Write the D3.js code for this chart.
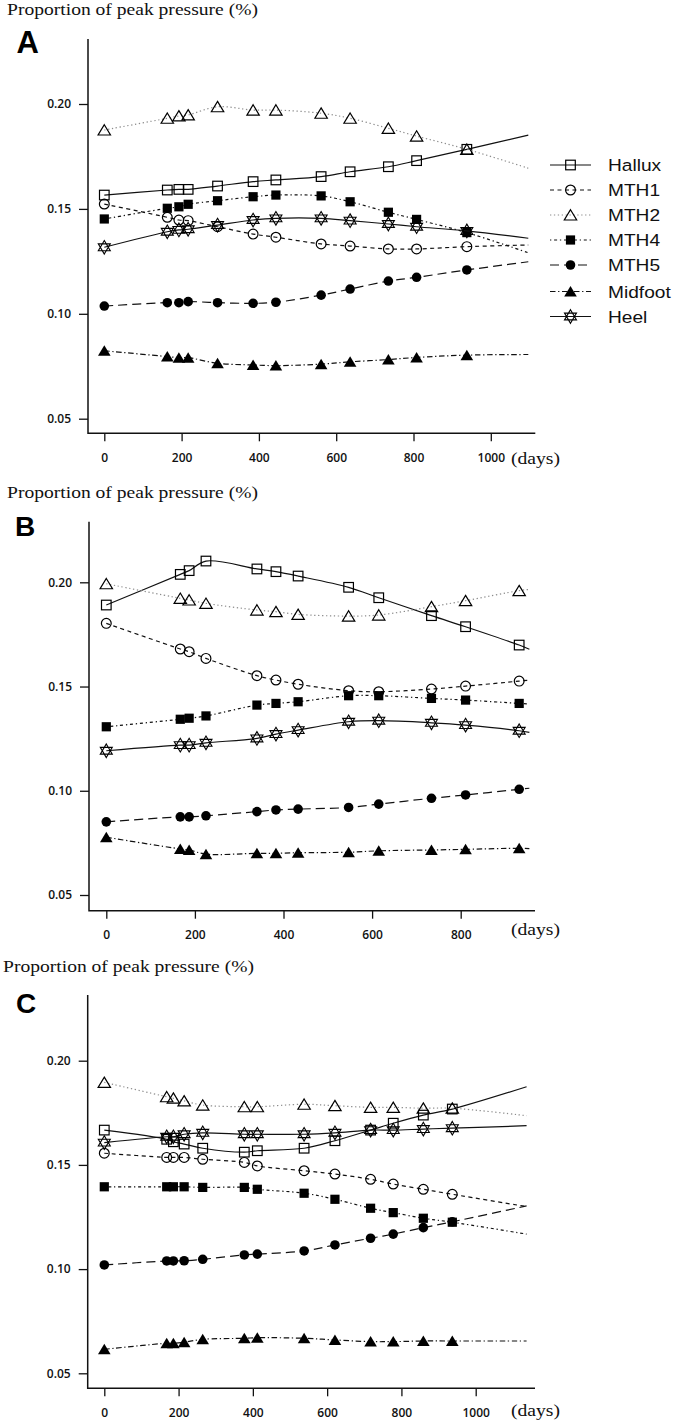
<!DOCTYPE html>
<html><head><meta charset="utf-8">
<script src="https://cdn.jsdelivr.net/npm/d3@7"></script>
<style>body{margin:0;background:#fff} svg{display:block}</style>
</head><body>
<svg id="chart" width="680" height="1422"></svg>
<script>
// ---------------- DATA ----------------
const seriesNames = ["Hallux","MTH1","MTH2","MTH4","MTH5","Midfoot","Heel"];
const yTicks = [0.05, 0.10, 0.15, 0.20];
const xTicksA = [0,200,400,600,800,1000];
const xTicksB = [0,200,400,600,800];
const xTicksC = [0,200,400,600,800,1000];
const yTitle = "Proportion of peak pressure (%)";
const xUnit = "(days)";

// Panel A
const daysA    = [0,163,193,217,293,385,444,561,636,735,808,938];
const lineEndDayA = 1097;
const halluxA  = [0.1566,0.1590,0.1593,0.1593,0.1609,0.1630,0.1638,0.1654,0.1677,0.1701,0.1730,0.1784];
const mth1A    = [0.1523,0.1460,0.1447,0.1444,0.1415,0.1380,0.1365,0.1333,0.1323,0.1309,0.1309,0.1320];
const mth2A    = [0.1876,0.1932,0.1943,0.1948,0.1987,0.1971,0.1971,0.1956,0.1932,0.1884,0.1847,0.1784];
const mth4A    = [0.1452,0.1503,0.1510,0.1522,0.1539,0.1558,0.1566,0.1562,0.1534,0.1484,0.1450,0.1387];
const mth5A    = [0.1037,0.1053,0.1053,0.1058,0.1053,0.1050,0.1055,0.1089,0.1118,0.1156,0.1174,0.1209];
const midfootA = [0.0824,0.0796,0.0791,0.0791,0.0764,0.0756,0.0753,0.0760,0.0771,0.0782,0.0792,0.0803];
const heelA    = [0.1317,0.1391,0.1400,0.1403,0.1423,0.1447,0.1455,0.1455,0.1444,0.1428,0.1415,0.1395];
const lineEndA = [0.1852,0.1328,0.1694,0.1291,0.1248,0.0806,0.1360];

// Panel B
const daysB    = [0,167,187,225,340,383,433,547,615,734,811,932];
const lineEndDayB = 955;
const halluxB  = [0.1891,0.2038,0.2056,0.2102,0.2064,0.2051,0.2030,0.1976,0.1926,0.1840,0.1787,0.1699];
const mth1B    = [0.1803,0.1680,0.1667,0.1635,0.1552,0.1531,0.1511,0.1480,0.1475,0.1488,0.1502,0.1526];
const mth2B    = [0.1993,0.1923,0.1915,0.1899,0.1867,0.1859,0.1846,0.1838,0.1843,0.1883,0.1912,0.1960];
const mth4B    = [0.1307,0.1343,0.1348,0.1359,0.1411,0.1419,0.1427,0.1456,0.1456,0.1443,0.1435,0.1419];
const mth5B    = [0.0851,0.0875,0.0875,0.0880,0.0900,0.0908,0.0912,0.0920,0.0936,0.0964,0.0980,0.1007];
const midfootB = [0.0777,0.0721,0.0716,0.0696,0.0700,0.0700,0.0703,0.0705,0.0712,0.0716,0.0719,0.0724];
const heelB    = [0.1192,0.1219,0.1219,0.1230,0.1251,0.1272,0.1291,0.1331,0.1336,0.1326,0.1315,0.1288];
const lineEndB = [0.1679,0.1531,0.1966,0.1416,0.1012,0.0722,0.1280];

// Panel C
const daysC    = [0,168,186,215,265,377,412,538,621,717,778,859,937];
const lineEndDayC = 1137;
const halluxC  = [0.1667,0.1623,0.1611,0.1600,0.1580,0.1561,0.1568,0.1580,0.1616,0.1667,0.1700,0.1739,0.1768];
const mth1C    = [0.1556,0.1536,0.1536,0.1536,0.1527,0.1512,0.1495,0.1472,0.1456,0.1431,0.1408,0.1383,0.1359];
const mth2C    = [0.1896,0.1827,0.1820,0.1807,0.1787,0.1779,0.1779,0.1791,0.1784,0.1776,0.1776,0.1772,0.1772];
const mth4C    = [0.1395,0.1395,0.1395,0.1395,0.1392,0.1392,0.1383,0.1364,0.1335,0.1292,0.1271,0.1244,0.1225];
const mth5C    = [0.1020,0.1039,0.1039,0.1040,0.1047,0.1068,0.1072,0.1087,0.1116,0.1148,0.1168,0.1199,0.1227];
const midfootC = [0.0615,0.0644,0.0644,0.0649,0.0663,0.0668,0.0671,0.0668,0.0660,0.0652,0.0652,0.0655,0.0655];
const heelC    = [0.1607,0.1635,0.1635,0.1647,0.1654,0.1647,0.1647,0.1647,0.1654,0.1667,0.1667,0.1672,0.1676];
const lineEndC = [0.1875,0.1300,0.1736,0.1168,0.1303,0.0655,0.1688];

// ---------------- STYLE / LAYOUT ----------------
const styles = {
  Hallux:  {stroke:"#111", dash:null,            marker:"openSquare"},
  MTH1:    {stroke:"#111", dash:"4,3.5",         marker:"openCircle"},
  MTH2:    {stroke:"#8c8c8c", dash:"1.3,2.6",    marker:"openTriangle"},
  MTH4:    {stroke:"#111", dash:"1.3,2.8,3,2.8", marker:"filledSquare"},
  MTH5:    {stroke:"#111", dash:"9,5",           marker:"filledCircle"},
  Midfoot: {stroke:"#111", dash:"5.5,2.6,1.3,2.6", marker:"filledTriangle"},
  Heel:    {stroke:"#111", dash:null,            marker:"star"}
};

const panels = [
  {letter:"A", days:daysA, endDay:lineEndDayA, vals:[halluxA,mth1A,mth2A,mth4A,mth5A,midfootA,heelA], ends:lineEndA, xTicks:xTicksA,
   xr:[104.3,490.8], xd:[0,1000], yr:[418.7,104], left:88, top:39, bottom:433.3, right:535.3,
   titleX:7, titleY:15, letterX:16.5, letterY:53, daysY:463.5},
  {letter:"B", days:daysB, endDay:lineEndDayB, vals:[halluxB,mth1B,mth2B,mth4B,mth5B,midfootB,heelB], ends:lineEndB, xTicks:xTicksB,
   xr:[106.3,460.7], xd:[0,800], yr:[895,582.3], left:89, top:521.7, bottom:910.7, right:535,
   titleX:7, titleY:498, letterX:15, letterY:535.5, daysY:935},
  {letter:"C", days:daysC, endDay:lineEndDayC, vals:[halluxC,mth1C,mth2C,mth4C,mth5C,midfootC,heelC], ends:lineEndC, xTicks:xTicksC,
   xr:[104.3,475.7], xd:[0,1000], yr:[1373.3,1060.7], left:87.7, top:995, bottom:1388.3, right:535,
   titleX:3, titleY:971.5, letterX:16, letterY:1013.3, daysY:1416}
];

const svg = d3.select("#chart");

function drawMarker(g, type, x, y) {
  const k = "#000";
  switch(type) {
    case "openSquare":
      g.append("rect").attr("x",x-4.8).attr("y",y-4.8).attr("width",9.6).attr("height",9.6)
        .attr("fill","none").attr("stroke",k).attr("stroke-width",1.2); break;
    case "openCircle":
      g.append("circle").attr("cx",x).attr("cy",y).attr("r",4.9)
        .attr("fill","none").attr("stroke",k).attr("stroke-width",1.2); break;
    case "openTriangle":
      g.append("path").attr("d",`M${x},${y-5.3}L${x+6.2},${y+5}L${x-6.2},${y+5}Z`)
        .attr("fill","none").attr("stroke",k).attr("stroke-width",1.2); break;
    case "filledSquare":
      g.append("rect").attr("x",x-4.6).attr("y",y-4.6).attr("width",9.2).attr("height",9.2).attr("fill",k); break;
    case "filledCircle":
      g.append("circle").attr("cx",x).attr("cy",y).attr("r",4.8).attr("fill",k); break;
    case "filledTriangle":
      g.append("path").attr("d",`M${x},${y-5.5}L${x+6.3},${y+5}L${x-6.3},${y+5}Z`).attr("fill",k); break;
    case "star":
      g.append("path").attr("d",
        `M${x},${y-6.8}L${x+6},${y+3.4}L${x-6},${y+3.4}Z M${x},${y+6.8}L${x+6},${y-3.4}L${x-6},${y-3.4}Z`)
        .attr("fill","none").attr("stroke",k).attr("stroke-width",1.1); break;
  }
}

panels.forEach(p => {
  const x = d3.scaleLinear().domain(p.xd).range(p.xr);
  const y = d3.scaleLinear().domain([0.05,0.20]).range(p.yr);
  const g = svg.append("g");

  // title
  g.append("text").attr("x",p.titleX).attr("y",p.titleY)
    .attr("font-family","'Liberation Serif', 'Times New Roman', serif").attr("font-size",17)
    .attr("textLength",251).attr("lengthAdjust","spacingAndGlyphs").attr("fill","#111").text(yTitle);
  // panel letter
  g.append("text").attr("x",p.letterX).attr("y",p.letterY)
    .attr("font-family","'Liberation Sans', Arial, sans-serif").attr("font-weight","bold")
    .attr("font-size",p.letter==="A"?31:28).attr("fill","#000").text(p.letter);

  // axes
  const ya = d3.axisLeft(y).tickValues(yTicks).tickFormat(d3.format(".2f")).tickSize(9).tickPadding(8);
  const yg = g.append("g").attr("transform",`translate(${p.left},0)`).call(ya);
  const xa = d3.axisBottom(x).tickValues(p.xTicks).tickFormat(d3.format("d")).tickSize(8).tickPadding(12);
  const xg = g.append("g").attr("transform",`translate(0,${p.bottom})`).call(xa);
  [yg,xg].forEach(a => {
    a.select(".domain").remove();
    a.selectAll(".tick line").attr("stroke","#111").attr("stroke-width",1.3);
    a.selectAll(".tick text").attr("font-family","'Open Sans', sans-serif").attr("font-weight",600)
      .attr("font-size",12).attr("fill","#111");
  });
  g.append("path").attr("d",`M${p.left},${p.top}V${p.bottom}H${p.right}`)
    .attr("fill","none").attr("stroke","#111").attr("stroke-width",1.5);
  g.append("text").attr("x",511).attr("y",p.daysY)
    .attr("font-family","'Liberation Serif', 'Times New Roman', serif").attr("font-size",17)
    .attr("textLength",49).attr("lengthAdjust","spacingAndGlyphs").attr("fill","#111").text(xUnit);

  // series
  const line = d3.line().x(d=>x(d[0])).y(d=>y(d[1])).curve(d3.curveCatmullRom.alpha(0.5));
  seriesNames.forEach((name,i) => {
    const st = styles[name];
    const pts = p.days.map((d,j)=>[d,p.vals[i][j]]);
    const lp = pts.concat([[p.endDay,p.ends[i]]]);
    const sg = g.append("g");
    sg.append("path").attr("d",line(lp)).attr("fill","none").attr("stroke",st.stroke)
      .attr("stroke-width",1.2).attr("stroke-dasharray",st.dash);
    pts.forEach(d => drawMarker(sg, st.marker, x(d[0]), y(d[1])));
  });
});

// legend (panel A)
const legY = [165,190,215,240,265,291.5,316.5];
const lg = svg.append("g");
seriesNames.forEach((name,i) => {
  const st = styles[name];
  const yy = legY[i];
  lg.append("line").attr("x1",550).attr("x2",591).attr("y1",yy).attr("y2",yy)
    .attr("stroke",st.stroke).attr("stroke-width",1.2).attr("stroke-dasharray",st.dash);
  drawMarker(lg, st.marker, 570.5, yy);
  lg.append("text").attr("transform",`translate(608,${yy+6}) scale(1.16,1)`)
    .attr("font-family","'Liberation Sans', Arial, sans-serif").attr("font-size",16.5)
    .attr("fill","#111").text(name);
});
</script>
</body></html>
